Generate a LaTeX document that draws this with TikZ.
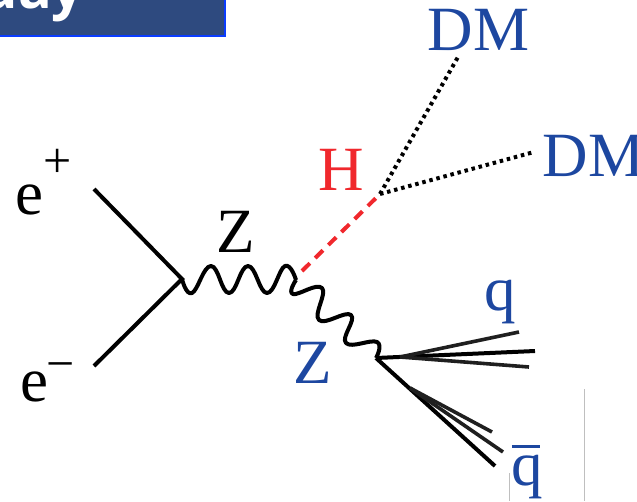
\documentclass[tikz,border=0pt]{standalone}
\usepackage{fontspec}
\setmainfont{Liberation Serif}
\setsansfont{Open Sans}
\usetikzlibrary{positioning}
\definecolor{dmblue}{HTML}{1D47A0}
\definecolor{higgsred}{HTML}{F0282D}
\definecolor{boxblue}{HTML}{2E4A7F}
\definecolor{boxedge}{HTML}{0A3CFF}
\begin{document}
\begin{tikzpicture}[x=1pt,y=-1pt,
  lbl/.style   ={font=\fontsize{63}{63}\selectfont, inner sep=0pt, anchor=base},
  suplbl/.style ={font=\fontsize{50}{50}\selectfont, inner sep=0pt, anchor=base},
  fermion/.style ={line width=4pt, black},
  jetline/.style ={line width=3.6pt, black!88},
  boson/.style ={line width=4pt, black, line join=round},
  higgs/.style ={line width=4pt, higgsred, dash pattern=on 11pt off 7.5pt},
  dm/.style    ={line width=4pt, black, dash pattern=on 3.5pt off 3.8pt},
  frameline/.style ={line width=1pt, black!25}
]
\useasboundingbox (0,0) rectangle (637,501);

% ---- Header box, cut off by the page ----------------------------------------
\begin{scope}
  \clip (0,0) rectangle (637,501);
  \node[draw=boxedge, fill=boxblue, line width=2.5pt, minimum width=300pt, minimum height=60pt,
    anchor=south east, inner sep=0pt] (hdr) at (226,37) {};
  \node[font=\fontsize{56}{56}\sffamily\bfseries\selectfont, text=white, anchor=base east, inner sep=0pt]
    (hdrtxt) at (84,8) {day};
\end{scope}

% ---- Frame lines at the bottom right -----------------------------------------
\coordinate (fa) at (584.5,389);
\coordinate (fb) at (584.5,501);
\coordinate (fc) at (509,473);
\coordinate (fd) at (509,501);
\draw[frameline] (fa) -- (fb);
\draw[frameline] (fc) -- (fd);

% ---- Vertices ---------------------------------------------------------------
\coordinate (vee) at (182,279);
\coordinate (vzh) at (296,280);
\coordinate (vhs) at (302,271);
\coordinate (vh) at (380,194);
\coordinate (vq) at (376,358);

% ---- Free ends --------------------------------------------------------------
\coordinate (ep) at (94,189);
\coordinate (em) at (94,366);
\coordinate (dm1) at (458,57);
\coordinate (dm2) at (534,152);
\coordinate (q1) at (519,332);
\coordinate (q2) at (535,351);
\coordinate (q3) at (529,367);
\coordinate (qb1) at (492,432);
\coordinate (qb2) at (503,452);
\coordinate (qb3) at (495,466);
\coordinate (qj) at (400,357);
\coordinate (qbj) at (410,388);

% ---- Lines ------------------------------------------------------------------
\draw[fermion] (ep) -- (vee) -- (em);
\draw[boson] plot[smooth,tension=0.75] coordinates {(vee) (192,293) (211,266) (229,293) (248,266) (267,293) (285,266) (vzh)};
\draw[boson] plot[smooth,tension=0.75] coordinates {(vzh) (293,294) (322,288) (319,320) (351,315) (346,343) (377,342) (vq)};
\draw[higgs] (vhs) -- (vh);
\draw[dm] (vh) -- (dm1);
\draw[dm] (vh) -- (dm2);

\draw[fermion] (vq) -- (q2);
\draw[jetline] (qj) -- (q1);
\draw[jetline] (qj) -- (q3);
\draw[fermion] (vq) -- (qb3);
\draw[jetline] (qbj) -- (qb1);
\draw[jetline] (qbj) -- (qb2);

% ---- Labels -----------------------------------------------------------------
\node[lbl] (lep) at (29,214) {e};
\node[suplbl] (lepp) at (58,177) {+};
\node[lbl] (lem) at (34,401) {e};
\node[suplbl] (lemm) at (61,380) {−};
\node[lbl] (lz1) at (236,252) {Z};
\node[lbl, text=dmblue] (lz2) at (313,383) {Z};
\node[lbl, text=higgsred] (lh) at (341,190) {H};
\node[lbl, text=dmblue] (ldm1) at (478.5,50) {DM};
\node[lbl, text=dmblue] (ldm2) at (593.5,176) {DM};
\node[lbl, text=dmblue] (lq) at (500,310) {q};
\node[lbl, text=dmblue] (lqb) at (527,485) {\rlap{\kern0.5pt\raisebox{37pt}{\rule{28pt}{3.5pt}}}q};
\end{tikzpicture}
\end{document}
